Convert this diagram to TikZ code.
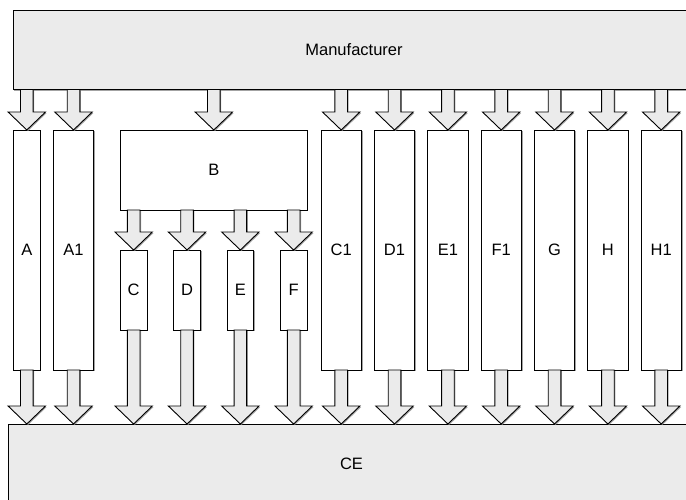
\documentclass[tikz,border=0pt]{standalone}
\usepackage{fontspec}
\setmainfont{Liberation Sans}
\usetikzlibrary{calc,shadows}
\definecolor{boxgrey}{RGB}{235,235,235}
\tikzset{
  shad/.style={drop shadow={shadow xshift=1.1pt, shadow yshift=-1.1pt, fill=black!45, opacity=0.8}},
  base/.style={draw=black, line width=0.9pt, inner sep=0pt, outer sep=0pt, anchor=north west,
    font=\fontsize{16.5}{18}\selectfont, shad},
  greybox/.style={base, fill=boxgrey},
  whitebox/.style={base, fill=white},
  barrow/.style={draw=black, line width=0.9pt, fill=boxgrey, line join=miter, shad}
}
\newcommand\barr[2]{\draw[barrow] let \p1=#1, \p2=#2 in
  (\x2-6.3pt,\y1) -- (\x2+6.3pt,\y1) -- (\x2+6.3pt,\y2+18pt) -- (\x2+18.7pt,\y2+18pt)
  -- (\x2,\y2) -- (\x2-18.7pt,\y2+18pt) -- (\x2-6.3pt,\y2+18pt) -- cycle;}
\begin{document}
\begin{tikzpicture}[x=1pt,y=-1pt]
\useasboundingbox (0,0) rectangle (686,500);
\fill[white] (0,0) rectangle (686,500);
\clip (0,0) rectangle (686,500);
% main boxes
\node[greybox, minimum width=682pt, minimum height=79.5pt] (manu) at (13,10) {Manufacturer};
\node[greybox, minimum width=687pt, minimum height=80pt] (ce) at (8,424) {CE};
% tall columns
\node[whitebox, minimum width=27pt, minimum height=240pt] (A) at (13.3,130) {A};
\node[whitebox, minimum width=40.4pt, minimum height=240pt] (A1) at (53.3,130) {A1};
\node[whitebox, minimum width=40.4pt, minimum height=240pt] (C1) at (321,130) {C1};
\node[whitebox, minimum width=40.4pt, minimum height=240pt] (D1) at (374.3,130) {D1};
\node[whitebox, minimum width=40.4pt, minimum height=240pt] (E1) at (427.7,130) {E1};
\node[whitebox, minimum width=40.4pt, minimum height=240pt] (F1) at (481,130) {F1};
\node[whitebox, minimum width=40.4pt, minimum height=240pt] (G) at (534.3,130) {G};
\node[whitebox, minimum width=40.4pt, minimum height=240pt] (H) at (587.7,130) {H};
\node[whitebox, minimum width=40.4pt, minimum height=240pt] (H1) at (641,130) {H1};
% B group
\node[whitebox, minimum width=187pt, minimum height=80pt] (B) at (120.3,130) {B};
\node[whitebox, minimum width=26.7pt, minimum height=80pt] (C) at (120.3,250) {C};
\node[whitebox, minimum width=26.7pt, minimum height=80pt] (D) at (173.7,250) {D};
\node[whitebox, minimum width=26.7pt, minimum height=80pt] (E) at (227,250) {E};
\node[whitebox, minimum width=26.7pt, minimum height=80pt] (F) at (280.3,250) {F};
% arrows from manufacturer
\foreach \nm in {A,A1,B,C1,D1,E1,F1,G,H,H1}{
  \barr{(manu.south -| \nm.north)}{(\nm.north)}
}
% arrows from B
\foreach \nm in {C,D,E,F}{
  \barr{(B.south -| \nm.north)}{(\nm.north)}
}
% arrows to CE
\foreach \nm in {A,A1,C,D,E,F,C1,D1,E1,F1,G,H,H1}{
  \barr{(\nm.south)}{(\nm.south |- ce.north)}
}
\end{tikzpicture}
\end{document}
